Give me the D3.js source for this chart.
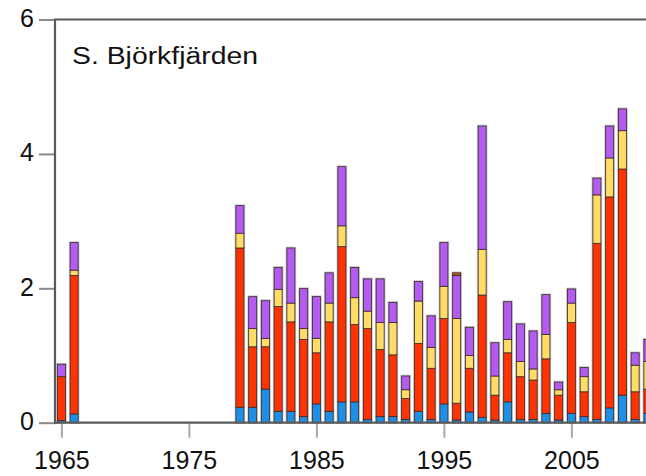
<!DOCTYPE html>
<html>
<head>
<meta charset="utf-8">
<script src="https://cdn.jsdelivr.net/npm/d3@7"></script>
<style>
  html, body { margin: 0; padding: 0; background: #fff; }
  svg { display: block; }
  text { font-family: "Liberation Sans", Arial, sans-serif; fill: #111; }
</style>
</head>
<body>
<svg id="chart" width="646" height="476"></svg>
<script>
// Annual values per group, stacked bottom to top
const years   = [1965, 1966, 1979, 1980, 1981, 1982, 1983, 1984, 1985, 1986, 1987, 1988, 1989, 1990, 1991, 1992, 1993, 1994, 1995, 1996, 1997, 1998, 1999, 2000, 2001, 2002, 2003, 2004, 2005, 2006, 2007, 2008, 2009, 2010, 2011];
const blue    = [0.03, 0.13, 0.23, 0.23, 0.50, 0.17, 0.17, 0.09, 0.28, 0.17, 0.31, 0.31, 0.05, 0.09, 0.09, 0.05, 0.17, 0.05, 0.28, 0.04, 0.16, 0.08, 0.04, 0.31, 0.05, 0.05, 0.14, 0.04, 0.14, 0.09, 0.05, 0.22, 0.41, 0.05, 0.14];
const red     = [0.655, 2.06, 2.37, 0.90, 0.63, 1.56, 1.33, 1.15, 0.76, 1.33, 2.31, 1.15, 1.35, 1.00, 0.92, 0.31, 1.01, 0.76, 1.27, 0.25, 0.65, 1.82, 0.37, 0.73, 0.635, 0.585, 0.81, 0.37, 1.35, 0.37, 2.62, 3.14, 3.365, 0.41, 0.36];
const yellow  = [0, 0.08, 0.22, 0.27, 0.126, 0.255, 0.28, 0.16, 0.216, 0.28, 0.31, 0.40, 0.26, 0.40, 0.48, 0.13, 0.63, 0.31, 0.48, 1.26, 0.19, 0.68, 0.285, 0.20, 0.225, 0.165, 0.365, 0.08, 0.29, 0.225, 0.72, 0.58, 0.57, 0.395, 0.41];
const purple  = [0.185, 0.41, 0.41, 0.475, 0.56, 0.325, 0.82, 0.595, 0.62, 0.45, 0.88, 0.45, 0.48, 0.65, 0.30, 0.205, 0.29, 0.47, 0.65, 0.64, 0.42, 1.835, 0.495, 0.56, 0.56, 0.565, 0.59, 0.115, 0.21, 0.135, 0.25, 0.475, 0.325, 0.185, 0.33];
const brown   = [0, 0, 0, 0, 0, 0, 0, 0, 0, 0, 0, 0, 0, 0, 0, 0, 0, 0, 0, 0.04, 0, 0, 0, 0, 0, 0, 0, 0, 0, 0, 0, 0, 0, 0, 0];

const seriesKeys = ["blue", "red", "yellow", "purple", "brown"];
const seriesColors = ["#1e8fe6", "#ff3300", "#ffdc66", "#b45cf2", "#b35a1a"];

const yTicks = [0, 2, 4, 6];
const xTicks = [1965, 1975, 1985, 1995, 2005];
const title = "S. Björkfjärden";

const rows = years.map((yr, i) => ({
  year: yr, blue: blue[i], red: red[i], yellow: yellow[i], purple: purple[i], brown: brown[i]
}));

const svg = d3.select("#chart");

const x = d3.scaleLinear().domain([1965, 2005]).range([61.4, 571.4]);
const y = d3.scaleLinear().domain([0, 6]).range([422.7, 19.5]);
const barW = 8;

const stack = d3.stack().keys(seriesKeys)(rows);
const total = d => d.blue + d.red + d.yellow + d.purple + d.brown;

// soft grey halo around each bar
svg.append("g")
  .selectAll("rect")
  .data(rows)
  .join("rect")
  .attr("x", d => x(d.year) - barW / 2)
  .attr("width", barW)
  .attr("y", d => y(total(d)))
  .attr("height", d => y(0) - y(total(d)))
  .attr("fill", "none")
  .attr("stroke", "#c4c4c4")
  .attr("stroke-width", 2.6);

// stacked segments
svg.append("g")
  .selectAll("g")
  .data(stack)
  .join("g")
  .attr("fill", (d, i) => seriesColors[i])
  .selectAll("rect")
  .data(d => d.filter(s => s[1] - s[0] > 0))
  .join("rect")
  .attr("x", d => x(d.data.year) - barW / 2)
  .attr("width", barW)
  .attr("y", d => y(d[1]))
  .attr("height", d => y(d[0]) - y(d[1]))
  .attr("stroke", "#3a2a2a")
  .attr("stroke-width", 0.8);

// x axis ticks (grey, below baseline)
const xAxis = d3.axisBottom(x).tickValues(xTicks).tickFormat(d3.format("d")).tickSize(15).tickPadding(13.5);
const gx = svg.append("g").attr("transform", `translate(0,${y(0)})`).call(xAxis);
gx.select(".domain").remove();
gx.selectAll(".tick line").attr("stroke", "#a8a8a8").attr("stroke-width", 2);
gx.selectAll(".tick text").attr("font-size", 25).attr("fill", "#111")
  .attr("font-family", "'Liberation Sans', Arial, sans-serif");

// y axis
const yAxis = d3.axisLeft(y).tickValues(yTicks).tickFormat(d3.format("d")).tickSize(16).tickPadding(5);
const gy = svg.append("g").attr("transform", "translate(55,0)").call(yAxis);
gy.select(".domain").remove();
gy.selectAll(".tick line").attr("stroke", "#8a8a8a").attr("stroke-width", 2);
gy.selectAll(".tick text").attr("font-size", 25).attr("fill", "#111").attr("dy", "0.28em")
  .attr("font-family", "'Liberation Sans', Arial, sans-serif");

// frame: left, top and baseline
const frame = svg.append("g").attr("stroke", "#5a5a5a").attr("stroke-width", 2.2).attr("fill", "none");
frame.append("line").attr("x1", 55).attr("x2", 55).attr("y1", y(6)).attr("y2", y(0) + 1);
frame.append("line").attr("x1", 54).attr("x2", 646).attr("y1", y(6)).attr("y2", y(6));
frame.append("line").attr("x1", 54).attr("x2", 646).attr("y1", y(0)).attr("y2", y(0));

svg.append("text")
  .attr("x", 72)
  .attr("y", 64)
  .attr("font-size", 23)
  .attr("textLength", 186)
  .attr("lengthAdjust", "spacingAndGlyphs")
  .text(title);
</script>
</body>
</html>
